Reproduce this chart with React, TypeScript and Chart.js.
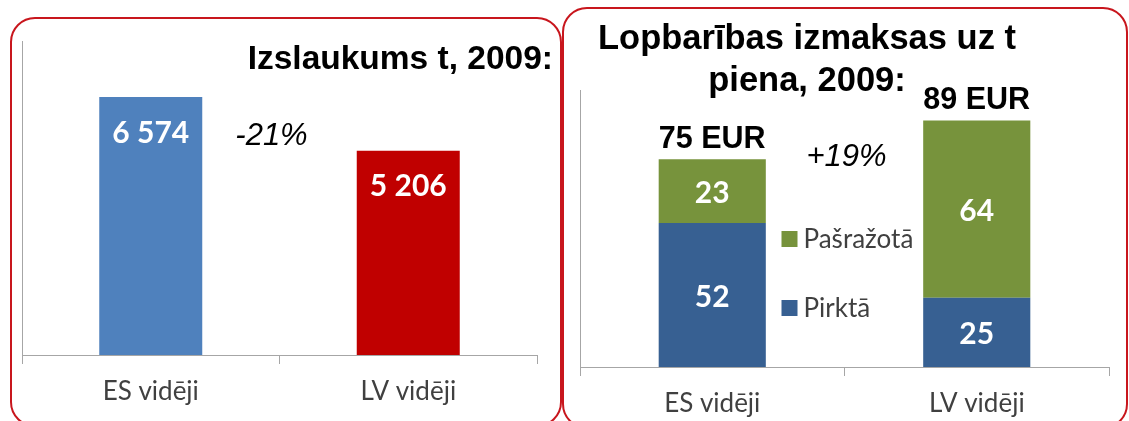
import React, { useEffect, useRef } from "react";
import { Chart, registerables } from "chart.js";

Chart.register(...registerables);

// ---------- data ----------
const categories = ["ES vidēji", "LV vidēji"];
const yieldValues = [6574, 5206];
const yieldChange = "-21%";
const yieldTitle = "Izslaukums t, 2009:";
const yieldMax = 8000;

const feedTitle = ["Lopbarības izmaksas uz t", "piena, 2009:"];
const seriesNames = ["Pirktā", "Pašražotā"];
const purchased = [52, 25];
const homegrown = [23, 64];
const feedChange = "+19%";
const feedUnit = "EUR";
const feedMax = 100;

// ---------- styles ----------
const BLUE_LEFT = "#4F81BD";
const RED_LEFT = "#C00000";
const BLUE = "#376092";
const GREEN = "#77933C";
const AXIS = "#A6A6A6";
const LABEL = "#404040";
const PANEL_RED = "#C8161D";

const fmt = (v: number) => String(v).replace(/\B(?=(\d{3})+(?!\d))/g, " ");

const leftPlugin = {
  id: "leftDecor",
  afterDatasetsDraw(chart: any) {
    const ctx = chart.ctx;
    const meta = chart.getDatasetMeta(0);
    const xs = chart.scales.x;
    const area = chart.chartArea;
    ctx.save();
    ctx.textAlign = "center";
    ctx.textBaseline = "middle";
    ctx.fillStyle = "#ffffff";
    ctx.font = "bold 30px Lato";
    meta.data.forEach((bar: any, i: number) => {
      ctx.fillText(fmt(yieldValues[i]), bar.x, bar.y + 36);
    });
    const mid = (xs.getPixelForValue(0) + xs.getPixelForValue(1)) / 2;
    ctx.fillStyle = "#000000";
    ctx.font = 'italic 31px "Liberation Sans"';
    ctx.fillText(yieldChange, mid - 8, meta.data[0].y + 39);
    ctx.textAlign = "right";
    ctx.textBaseline = "alphabetic";
    ctx.font = 'bold 33.5px "Liberation Sans"';
    ctx.fillText(yieldTitle, area.right + 16, 69);
    ctx.restore();
  },
};

const rightPlugin = {
  id: "rightDecor",
  afterDatasetsDraw(chart: any) {
    const ctx = chart.ctx;
    const xs = chart.scales.x;
    const area = chart.chartArea;
    ctx.save();
    ctx.textAlign = "center";
    ctx.textBaseline = "middle";
    ctx.fillStyle = "#ffffff";
    ctx.font = "bold 30px Lato";
    chart.data.datasets.forEach((ds: any, di: number) => {
      const meta = chart.getDatasetMeta(di);
      meta.data.forEach((bar: any, i: number) => {
        ctx.fillText(String(ds.data[i]), bar.x, (bar.y + bar.base) / 2 + 2);
      });
    });
    // totals
    const topMeta = chart.getDatasetMeta(1);
    ctx.fillStyle = "#000000";
    ctx.font = 'bold 30.5px "Liberation Sans"';
    ctx.textBaseline = "alphabetic";
    topMeta.data.forEach((bar: any, i: number) => {
      const total = purchased[i] + homegrown[i];
      ctx.fillText(`${total} ${feedUnit}`, bar.x, bar.y - 11);
    });
    // change
    const mid = (xs.getPixelForValue(0) + xs.getPixelForValue(1)) / 2;
    ctx.font = 'italic 31px "Liberation Sans"';
    ctx.textBaseline = "middle";
    ctx.fillText(feedChange, mid + 2, topMeta.data[0].y - 2);
    // title
    ctx.font = 'bold 34.5px "Liberation Sans"';
    ctx.textBaseline = "alphabetic";
    const cx = area.left + 227;
    ctx.fillText(feedTitle[0], cx, 49);
    ctx.fillText(feedTitle[1], cx, 91);
    // legend
    const lx = mid - 63;
    const items = [
      { name: seriesNames[1], color: GREEN, y: 239 },
      { name: seriesNames[0], color: BLUE, y: 308 },
    ];
    ctx.textAlign = "left";
    ctx.textBaseline = "middle";
    ctx.font = "26px Lato";
    items.forEach((it) => {
      ctx.fillStyle = it.color;
      ctx.fillRect(lx, it.y - 8, 16, 16);
      ctx.fillStyle = LABEL;
      ctx.fillText(it.name, lx + 22, it.y + 1);
    });
    ctx.restore();
  },
};

function axisOptions(max: number, xHeight: number) {
  return {
    x: {
      grid: {
        display: true,
        offset: true,
        drawOnChartArea: false,
        drawTicks: true,
        tickLength: 9,
        color: AXIS,
      },
      border: { display: true, color: AXIS, width: 1 },
      ticks: { color: LABEL, font: { family: "Lato", size: 26 }, padding: 12 },
      afterFit: (s: any) => {
        s.height = xHeight;
      },
    },
    y: {
      min: 0,
      max,
      grid: { display: false },
      border: { display: true, color: AXIS, width: 1 },
      ticks: { display: false },
      afterFit: (s: any) => {
        s.width = 0;
      },
    },
  };
}

function LeftChart() {
  const ref = useRef<HTMLCanvasElement>(null);
  useEffect(() => {
    const chart = new Chart(ref.current!, {
      type: "bar",
      data: {
        labels: categories,
        datasets: [
          {
            data: yieldValues,
            backgroundColor: [BLUE_LEFT, RED_LEFT],
            categoryPercentage: 1,
            barPercentage: 0.4,
          },
        ],
      },
      options: {
        responsive: false,
        animation: false,
        devicePixelRatio: 1,
        layout: { padding: { left: 22, right: 23, top: 41, bottom: 0 } },
        plugins: { legend: { display: false }, tooltip: { enabled: false }, title: { display: false } },
        scales: axisOptions(yieldMax, 66) as any,
      },
      plugins: [leftPlugin],
    });
    return () => chart.destroy();
  }, []);
  return (
    <canvas
      ref={ref}
      width={560}
      height={421}
      style={{ position: "absolute", left: 0, top: 0, width: 560, height: 421 }}
    />
  );
}

function RightChart() {
  const ref = useRef<HTMLCanvasElement>(null);
  useEffect(() => {
    const chart = new Chart(ref.current!, {
      type: "bar",
      data: {
        labels: categories,
        datasets: [
          {
            label: seriesNames[0],
            data: purchased,
            backgroundColor: BLUE,
            categoryPercentage: 1,
            barPercentage: 0.405,
          },
          {
            label: seriesNames[1],
            data: homegrown,
            backgroundColor: GREEN,
            categoryPercentage: 1,
            barPercentage: 0.405,
          },
        ],
      },
      options: {
        responsive: false,
        animation: false,
        devicePixelRatio: 1,
        layout: { padding: { left: 20, right: 20, top: 90, bottom: 0 } },
        plugins: { legend: { display: false }, tooltip: { enabled: false }, title: { display: false } },
        scales: (() => {
          const s: any = axisOptions(feedMax, 54);
          s.x.stacked = true;
          s.y.stacked = true;
          return s;
        })(),
      },
      plugins: [rightPlugin],
    });
    return () => chart.destroy();
  }, []);
  return (
    <canvas
      ref={ref}
      width={569}
      height={421}
      style={{ position: "absolute", left: 560, top: 0, width: 569, height: 421 }}
    />
  );
}

export default function App() {
  const panel = (left: number, top: number, width: number, height: number) => ({
    position: "absolute" as const,
    left,
    top,
    width,
    height,
    boxSizing: "border-box" as const,
    border: `2.5px solid ${PANEL_RED}`,
    borderRadius: 25,
  });
  return (
    <div
      style={{
        position: "fixed",
        left: 0,
        top: 0,
        width: 1129,
        height: 421,
        overflow: "hidden",
        background: "#ffffff",
      }}
    >
      <div style={panel(10, 17, 552, 410)} />
      <div style={panel(562, 7, 566, 422)} />
      <LeftChart />
      <RightChart />
    </div>
  );
}
